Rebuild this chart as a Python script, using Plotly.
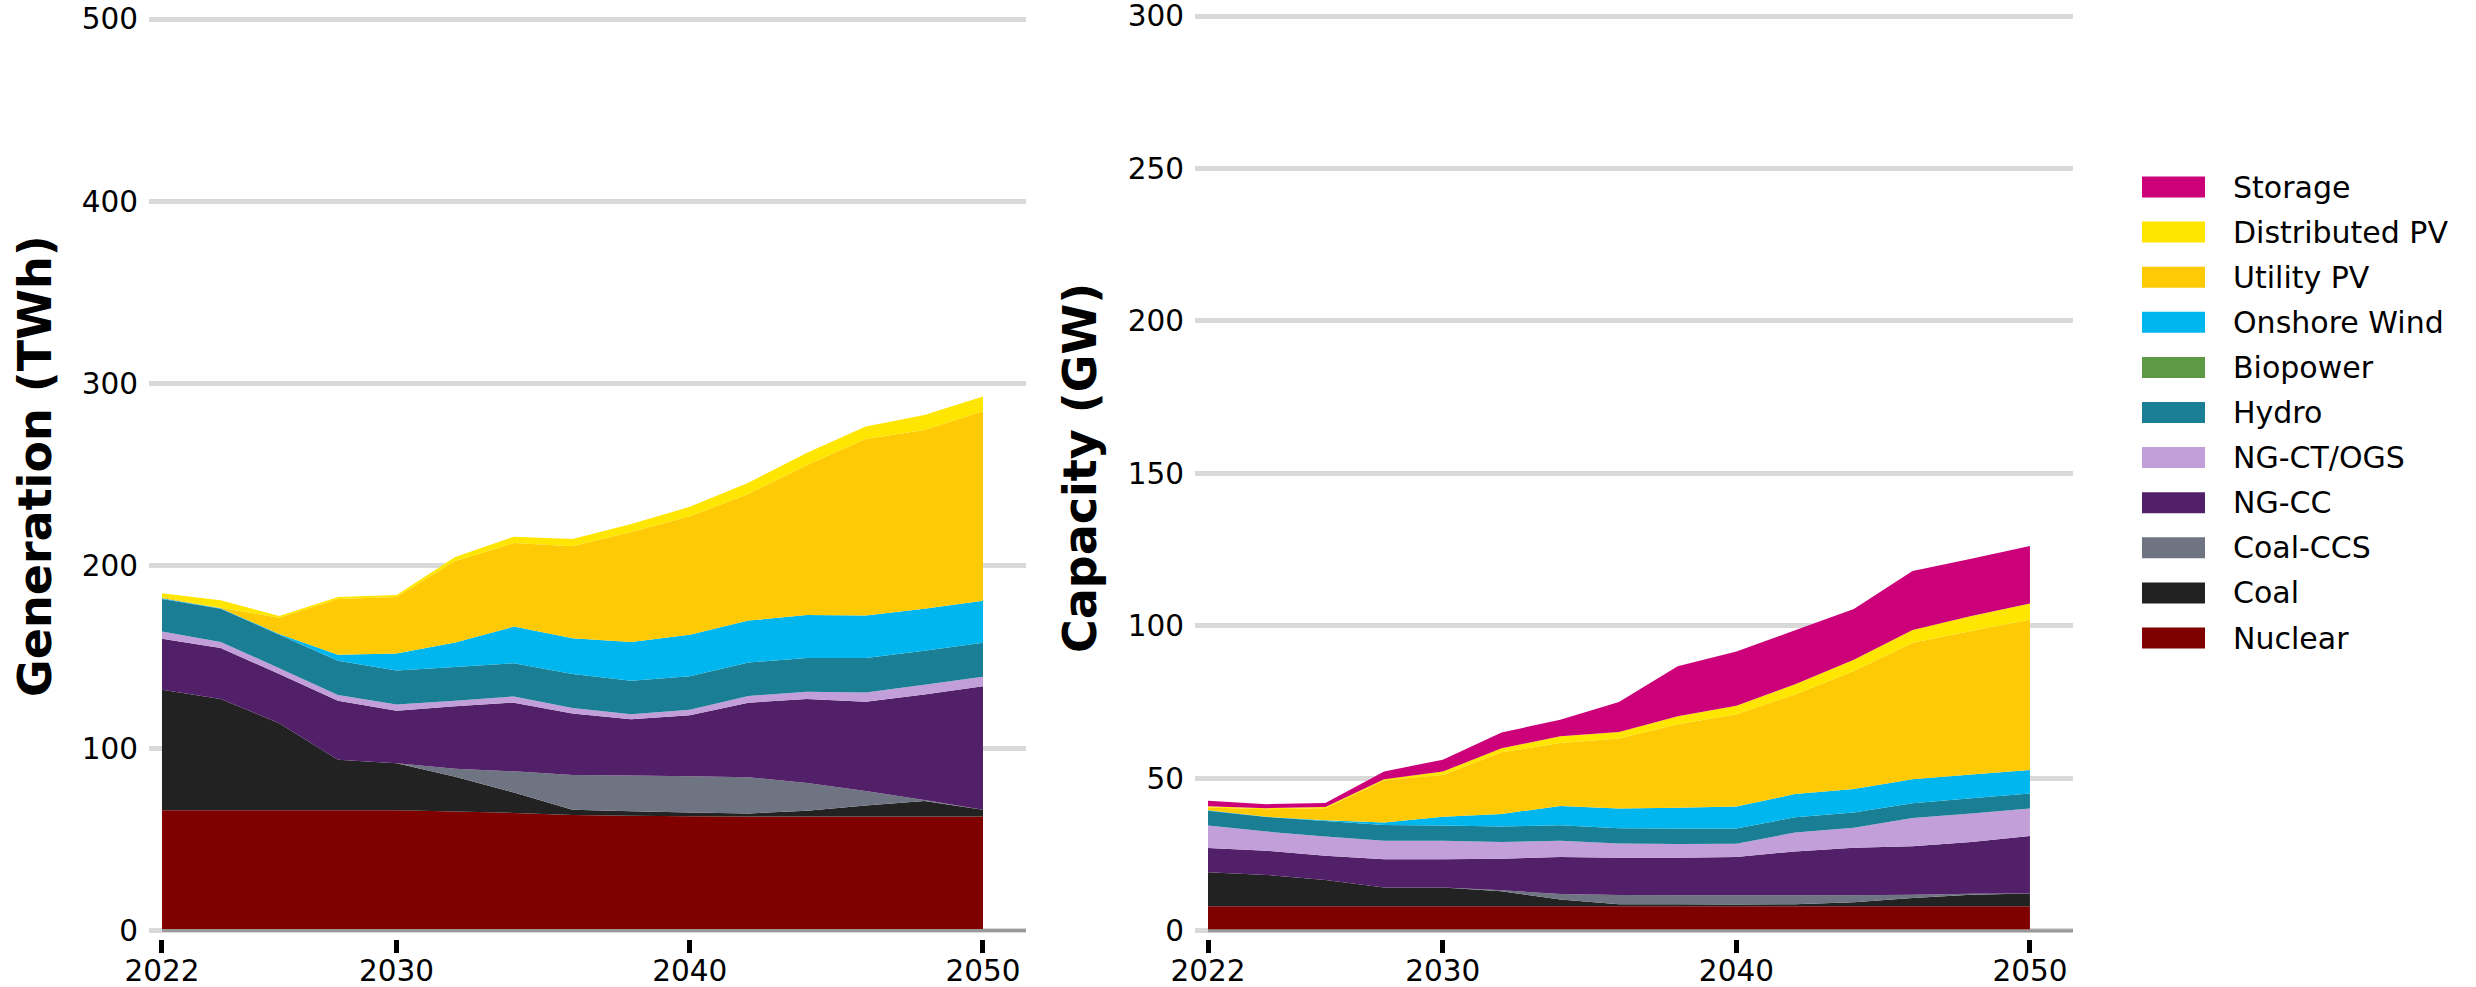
import plotly.graph_objects as go

# Model years (every two years)
years = [2022, 2024, 2026, 2028, 2030, 2032, 2034, 2036, 2038, 2040, 2042, 2044, 2046, 2048, 2050]

# Technologies, stacked bottom to top
techs = ["Nuclear", "Coal", "Coal-CCS", "NG-CC", "NG-CT/OGS", "Hydro", "Biopower",
         "Onshore Wind", "Utility PV", "Distributed PV", "Storage"]
colors = {
    "Nuclear": "#800000",
    "Coal": "#222222",
    "Coal-CCS": "#6f7483",
    "NG-CC": "#512068",
    "NG-CT/OGS": "#c29fd8",
    "Hydro": "#1a7f95",
    "Biopower": "#5e9a46",
    "Onshore Wind": "#00b6ef",
    "Utility PV": "#fec905",
    "Distributed PV": "#ffe600",
    "Storage": "#cc0078",
}

# Annual generation (TWh)
gen_nuclear = [66, 66, 66, 66, 66, 65.3, 64.5, 63.3, 62.9, 62.7, 62.6, 62.5, 62.5, 62.5, 62.5]
gen_coal = [66, 61, 47.7, 27.6, 25.7, 19, 11.2, 2.9, 2.5, 2.0, 1.6, 3.2, 6.1, 8.6, 3.7]
gen_coal_ccs = [0, 0, 0, 0, 0, 4.4, 11.6, 19.1, 19.6, 19.9, 19.9, 15.2, 7.9, 0.5, 0]
gen_ngcc = [28, 27.9, 27, 32.4, 28.9, 34.3, 37.7, 33.8, 30.9, 33.5, 40.9, 46.1, 49, 57.8, 67.8]
gen_ngct = [4, 3.4, 3.2, 3.2, 3.4, 3, 3.4, 2.9, 2.7, 3, 3.7, 3.9, 5.1, 5.4, 5.2]
gen_hydro = [17.9, 18.2, 18.4, 18.8, 18.6, 18.6, 18.2, 18.7, 18.4, 18.4, 18.3, 18.6, 18.9, 18.6, 18.6]
gen_bio = [0, 0, 0, 0, 0, 0, 0, 0, 0, 0, 0, 0, 0, 0, 0]
gen_wind = [0.3, 0.3, 0.4, 3.2, 9.4, 13.4, 20.1, 19.6, 21.3, 22.8, 23, 23.5, 23.3, 23.1, 23.1]
gen_upv = [0.8, 0.2, 8.9, 30.7, 31, 44.7, 45.8, 50.5, 60.3, 64.9, 69.5, 82.4, 96.8, 98, 103.9]
gen_dpv = [2, 4.1, 0.9, 1.1, 1, 2.2, 3.5, 3.9, 4.4, 5.2, 6.1, 6.6, 6.9, 8.3, 8.1]

# Installed capacity (GW)
cap_nuclear = [8, 8, 8, 8, 8, 8, 8, 8, 8, 8, 8, 8, 8, 8, 8]
cap_coal = [11.2, 10.3, 8.6, 6.2, 6.2, 4.9, 2.2, 0.7, 0.7, 0.6, 0.7, 1.3, 2.7, 3.8, 4.2]
cap_coal_ccs = [0, 0, 0, 0, 0, 0.4, 1.8, 3.0, 2.9, 3.0, 2.9, 2.3, 1.1, 0.3, 0]
cap_ngcc = [7.9, 7.9, 8, 9.2, 9.2, 10.3, 12.2, 12.2, 12.3, 12.6, 14.4, 15.6, 15.9, 17, 18.9]
cap_ngct = [7.4, 6.3, 6.3, 6.1, 6.1, 5.5, 5.3, 4.7, 4.5, 4.3, 6.2, 6.6, 9.3, 9.3, 9]
cap_hydro = [4.8, 4.8, 5.1, 5.2, 5, 5.1, 5.1, 5, 5.1, 5, 5, 5, 4.8, 5, 4.9]
cap_bio = [0, 0, 0, 0, 0, 0, 0, 0, 0, 0, 0, 0, 0, 0, 0]
cap_wind = [0.2, 0.1, 0.2, 0.8, 2.9, 4.1, 6.3, 6.5, 6.8, 7.2, 7.6, 7.7, 7.9, 7.8, 7.7]
cap_upv = [0.9, 2.4, 4, 13.8, 13.7, 20.2, 20.7, 22.9, 27.4, 30.3, 32.7, 38.7, 44.7, 47.1, 49.3]
cap_dpv = [0.4, 0.4, 0.4, 0.4, 1.1, 1.3, 2.2, 2.2, 2.6, 2.8, 3.3, 3.7, 4.2, 4.9, 5.3]
cap_storage = [1.8, 1.3, 1.3, 2.5, 3.9, 5.2, 5.4, 9.8, 16.4, 17.8, 17.7, 16.6, 19.4, 18.8, 18.9]

generation = {
    "Nuclear": gen_nuclear, "Coal": gen_coal, "Coal-CCS": gen_coal_ccs, "NG-CC": gen_ngcc,
    "NG-CT/OGS": gen_ngct, "Hydro": gen_hydro, "Biopower": gen_bio, "Onshore Wind": gen_wind,
    "Utility PV": gen_upv, "Distributed PV": gen_dpv,
}
capacity = {
    "Nuclear": cap_nuclear, "Coal": cap_coal, "Coal-CCS": cap_coal_ccs, "NG-CC": cap_ngcc,
    "NG-CT/OGS": cap_ngct, "Hydro": cap_hydro, "Biopower": cap_bio, "Onshore Wind": cap_wind,
    "Utility PV": cap_upv, "Distributed PV": cap_dpv, "Storage": cap_storage,
}

gen_ticks = [0, 100, 200, 300, 400, 500]
cap_ticks = [0, 50, 100, 150, 200, 250, 300]
year_ticks = [2022, 2030, 2040, 2050]

W, H = 2476, 987
FONT = "DejaVu Sans"
GRID = "#d9d9d9"
x_range = [2021.557, 2051.467]

# Pixel layout of each panel: value 0 and the top tick sit at these rows;
# the plotting area gets a few pixels of slack so edge gridlines are kept.
PAD = 8


def y_setup(zero_px, top_px, top_val):
    per = (zero_px - top_px) / top_val
    rng = [-PAD / per, top_val + PAD / per]
    dom = [1 - (zero_px + PAD) / H, 1 - (top_px - PAD) / H]
    return rng, dom


gen_range, gen_dom = y_setup(930.5, 19, gen_ticks[-1])
cap_range, cap_dom = y_setup(930.7, 16, cap_ticks[-1])

fig = go.Figure()

for tech in techs:
    if tech in generation:
        fig.add_trace(go.Scatter(
            x=years, y=generation[tech], name=tech, stackgroup="gen", mode="none",
            fillcolor=colors[tech], xaxis="x", yaxis="y", showlegend=False,
            hovertemplate="%{x}: %{y} TWh<extra>" + tech + "</extra>"))
for tech in techs:
    fig.add_trace(go.Scatter(
        x=years, y=capacity[tech], name=tech, stackgroup="cap", mode="none",
        fillcolor=colors[tech], xaxis="x2", yaxis="y2", showlegend=False,
        hovertemplate="%{x}: %{y} GW<extra>" + tech + "</extra>"))

xaxis_common = dict(
    range=x_range, tickvals=year_ticks, ticks="outside", ticklen=13, tickwidth=5,
    tickcolor="black", showgrid=False, zeroline=False, showline=False, automargin=False,
    ticklabelstandoff=-7, ticklabeloverflow="allow",
    tickfont=dict(family=FONT, size=29.5, color="black"),
)
yaxis_common = dict(
    showgrid=True, gridcolor=GRID, gridwidth=5, zeroline=False, showline=False,
    automargin=False, ticks="outside", ticklen=4, tickcolor="rgba(0,0,0,0)",
    ticklabeloverflow="allow",
    tickfont=dict(family=FONT, size=29.5, color="black"),
)

fig.update_layout(
    width=W, height=H,
    margin=dict(l=0, r=0, t=0, b=0, autoexpand=False),
    paper_bgcolor="white", plot_bgcolor="white",
    showlegend=False,
    xaxis=dict(domain=[149 / W, 1026 / W], anchor="y", **xaxis_common),
    yaxis=dict(domain=gen_dom, anchor="x", range=gen_range, tickvals=gen_ticks, **yaxis_common),
    xaxis2=dict(domain=[1195 / W, 2073 / W], anchor="y2", **xaxis_common),
    yaxis2=dict(domain=cap_dom, anchor="x2", range=cap_range, tickvals=cap_ticks, **yaxis_common),
)

# Bottom axis spines, running from the first model year to the right edge
for xa, ya in (("x", "y"), ("x2", "y2")):
    fig.add_shape(type="line", xref=xa, yref=ya, x0=years[0], x1=x_range[1], y0=0, y1=0,
                  line=dict(color="#999999", width=3), layer="above")

# Axis titles
fig.add_annotation(text="<b>Generation (TWh)</b>", xref="paper", yref="paper",
                   x=35 / W, y=1 - 466 / H, xanchor="center", yanchor="middle",
                   textangle=-90, showarrow=False,
                   font=dict(family=FONT, size=46, color="black"))
fig.add_annotation(text="<b>Capacity (GW)</b>", xref="paper", yref="paper",
                   x=1080 / W, y=1 - 468 / H, xanchor="center", yanchor="middle",
                   textangle=-90, showarrow=False,
                   font=dict(family=FONT, size=46, color="black"))

# Legend: swatches and labels, top entry is the top of the stack
legend_order = list(reversed(techs))
row0, row_step = 187, 45.1
for i, tech in enumerate(legend_order):
    yc = row0 + i * row_step
    fig.add_shape(type="rect", xref="paper", yref="paper",
                  x0=2142 / W, x1=2205 / W, y0=1 - (yc - 10.5) / H, y1=1 - (yc + 10.5) / H,
                  fillcolor=colors[tech], line=dict(width=0))
    fig.add_annotation(text=tech, xref="paper", yref="paper", x=2231 / W, y=1 - yc / H,
                       xanchor="left", yanchor="middle", showarrow=False,
                       font=dict(family=FONT, size=30, color="black"))

fig.write_html("out.html")
